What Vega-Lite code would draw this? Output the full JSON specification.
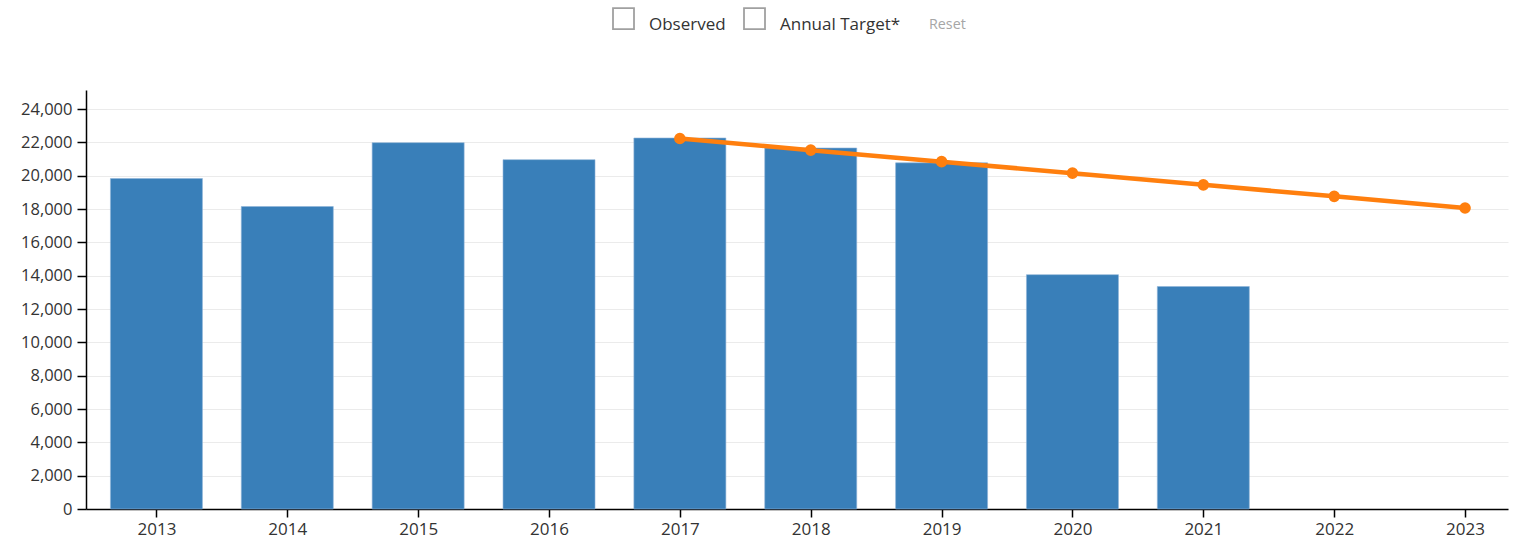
{
  "$schema": "https://vega.github.io/schema/vega-lite/v6.json",
  "width": 1422,
  "height": 419,
  "autosize": "none",
  "padding": {"left": 86, "top": 90, "right": 16, "bottom": 32},
  "background": "white",
  "title": {
    "text": "Reset",
    "orient": "top",
    "anchor": "start",
    "frame": "group",
    "dx": 843,
    "offset": -30,
    "baseline": "alphabetic",
    "font": "Open Sans",
    "fontSize": 14.3,
    "fontWeight": "normal",
    "color": "#a6a6a6"
  },
  "config": {
    "font": "Open Sans",
    "view": {"stroke": null},
    "axisY": {
      "title": null,
      "values": [0, 2000, 4000, 6000, 8000, 10000, 12000, 14000, 16000, 18000, 20000, 22000, 24000],
      "format": ",d",
      "grid": true,
      "gridColor": "#ebebeb",
      "gridWidth": 1,
      "domainColor": "#000",
      "domainWidth": 1.5,
      "tickColor": "#000",
      "tickWidth": 1.5,
      "tickSize": 9,
      "labelPadding": 5,
      "labelFont": "Open Sans",
      "labelFontSize": 16.5,
      "labelColor": "#333",
      "labelOverlap": false
    }
  },
  "data": {
    "values": [
      {"year": 2013, "observed": 19830, "target": null},
      {"year": 2014, "observed": 18150, "target": null},
      {"year": 2015, "observed": 21980, "target": null},
      {"year": 2016, "observed": 20960, "target": null},
      {"year": 2017, "observed": 22260, "target": 22230},
      {"year": 2018, "observed": 21660, "target": 21530},
      {"year": 2019, "observed": 20770, "target": 20840},
      {"year": 2020, "observed": 14060, "target": 20150},
      {"year": 2021, "observed": 13350, "target": 19450},
      {"year": 2022, "observed": null, "target": 18760},
      {"year": 2023, "observed": null, "target": 18060}
    ]
  },
  "encoding": {
    "x": {
      "field": "year",
      "type": "quantitative",
      "scale": {"domain": [2012.5, 2023.29], "nice": false, "zero": false},
      "axis": {
        "title": null,
        "values": [2013, 2014, 2015, 2016, 2017, 2018, 2019, 2020, 2021, 2022, 2023],
        "format": "d",
        "grid": false,
        "domainColor": "#000",
        "domainWidth": 1.5,
        "tickColor": "#000",
        "tickWidth": 1.5,
        "tickSize": 8,
        "labelPadding": 4,
        "labelFont": "Open Sans",
        "labelFontSize": 17,
        "labelColor": "#333",
        "labelOverlap": false
      }
    }
  },
  "layer": [
    {
      "transform": [{"filter": "datum.observed != null"}],
      "mark": {"type": "bar", "width": 92, "color": "#397fb9", "stroke": "#8fb4d8", "strokeWidth": 0.6},
      "encoding": {
        "y": {
          "field": "observed",
          "type": "quantitative",
          "scale": {"domain": [0, 25140], "nice": false}
        }
      }
    },
    {
      "transform": [{"filter": "datum.target != null"}],
      "mark": {"type": "line", "color": "#ff7f0e", "strokeWidth": 4.5},
      "encoding": {
        "y": {"field": "target", "type": "quantitative"}
      }
    },
    {
      "transform": [{"filter": "datum.target != null"}],
      "mark": {"type": "circle", "color": "#ff7f0e", "opacity": 1, "size": 135},
      "encoding": {
        "y": {"field": "target", "type": "quantitative"}
      }
    },
    {
      "transform": [{"filter": "false"}],
      "mark": {"type": "point", "filled": false, "strokeWidth": 1.5},
      "encoding": {
        "color": {
          "datum": "Observed",
          "scale": {"domain": ["Observed", "Annual Target*"], "range": ["#a0a0a0", "#a0a0a0"]},
          "legend": {
            "title": null,
            "orient": "none",
            "direction": "horizontal",
            "legendX": 526,
            "legendY": -77,
            "symbolType": "M-1,-1.57H1V0.43H-1Z",
            "symbolSize": 441,
            "symbolStrokeWidth": 1.8,
            "symbolOpacity": 1,
            "labelFont": "Open Sans",
            "labelFontSize": 17,
            "labelColor": "#333",
            "labelOffset": 14,
            "columnPadding": 14
          }
        }
      }
    }
  ]
}
